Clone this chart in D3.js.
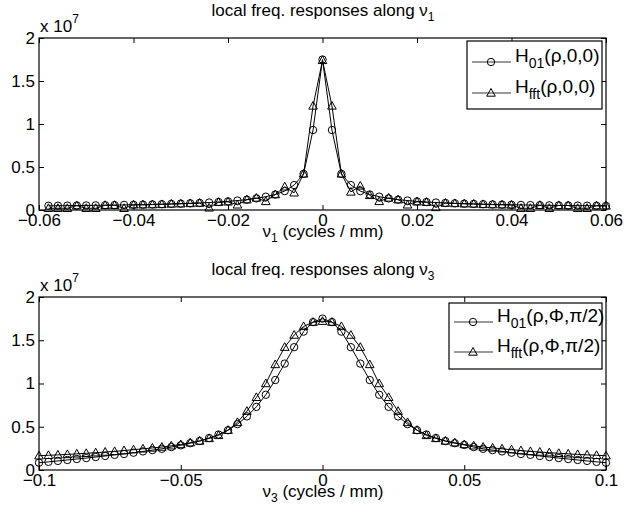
<!DOCTYPE html>
<html>
<head>
<meta charset="utf-8">
<script src="https://cdn.jsdelivr.net/npm/d3@7"></script>
<style>
  body { margin: 0; background: #fff; }
  text { font-family: "Liberation Sans", Arial, sans-serif; fill: #000; }
</style>
</head>
<body>
<script>
// panel 1: along nu1, sampled every 0.002 cycles/mm from -0.058 to 0.06
let topX = d3.range(60).map(i => +(-0.058 + 0.002 * i).toFixed(3));
// values in units of 1e7
let topH01 = [0.049, 0.05, 0.051, 0.052, 0.053, 0.054, 0.056, 0.057, 0.059, 0.061,
    0.063, 0.065, 0.068, 0.071, 0.074, 0.078, 0.082, 0.087, 0.093, 0.10,
    0.11, 0.12, 0.135, 0.155, 0.18, 0.22, 0.29, 0.42, 0.93, 1.75,
    0.93, 0.42, 0.29, 0.22, 0.18, 0.155, 0.135, 0.12, 0.11, 0.10,
    0.093, 0.087, 0.082, 0.078, 0.074, 0.071, 0.068, 0.065, 0.063, 0.061,
    0.059, 0.057, 0.056, 0.054, 0.053, 0.052, 0.051, 0.05, 0.049, 0.048];
let topFft = [0.02, 0.02, 0.02, 0.05, 0.02, 0.02, 0.055, 0.055, 0.02, 0.06,
    0.06, 0.062, 0.065, 0.07, 0.072, 0.076, 0.08, 0.025, 0.09, 0.095,
    0.06, 0.12, 0.14, 0.10, 0.18, 0.27, 0.20, 0.42, 1.21, 1.74,
    1.21, 0.42, 0.21, 0.28, 0.17, 0.10, 0.14, 0.12, 0.06, 0.095,
    0.09, 0.03, 0.08, 0.076, 0.072, 0.07, 0.065, 0.062, 0.06, 0.058,
    0.02, 0.02, 0.055, 0.02, 0.053, 0.052, 0.02, 0.02, 0.05, 0.048];

// panel 2: along nu3, 61 samples from -0.1 to 0.1
let botX = d3.range(61).map(i => -0.1 + i / 300);
let botH01 = [0.084, 0.094, 0.105, 0.116, 0.127, 0.138, 0.15, 0.162, 0.175, 0.185,
    0.20, 0.215, 0.23, 0.245, 0.265, 0.285, 0.31, 0.335, 0.37, 0.41,
    0.46, 0.53, 0.62, 0.73, 0.87, 1.04, 1.23, 1.42, 1.60, 1.71,
    1.75,
    1.71, 1.60, 1.42, 1.23, 1.04, 0.87, 0.73, 0.62, 0.53, 0.46,
    0.41, 0.37, 0.335, 0.31, 0.29, 0.265, 0.245, 0.23, 0.215, 0.20,
    0.185, 0.175, 0.162, 0.15, 0.138, 0.127, 0.116, 0.105, 0.094, 0.084];
let botFft = [0.165, 0.17, 0.175, 0.18, 0.187, 0.193, 0.20, 0.208, 0.215, 0.225,
    0.235, 0.245, 0.255, 0.265, 0.28, 0.295, 0.315, 0.335, 0.365, 0.40,
    0.46, 0.55, 0.68, 0.84, 1.0, 1.22, 1.42, 1.56, 1.66, 1.71,
    1.72,
    1.71, 1.66, 1.56, 1.42, 1.22, 1.0, 0.84, 0.68, 0.55, 0.46,
    0.40, 0.365, 0.335, 0.315, 0.295, 0.28, 0.265, 0.255, 0.245, 0.235,
    0.225, 0.215, 0.208, 0.20, 0.193, 0.187, 0.18, 0.175, 0.17, 0.165];

let yTicks = [0, 0.5, 1, 1.5, 2];
let yTickLabels = ["0", "0.5", "1", "1.5", "2"];
let topXTicks = [-0.06, -0.04, -0.02, 0, 0.02, 0.04, 0.06];
let topXTickLabels = ["\u22120.06", "\u22120.04", "\u22120.02", "0", "0.02", "0.04", "0.06"];
let botXTicks = [-0.1, -0.05, 0, 0.05, 0.1];
let botXTickLabels = ["\u22120.1", "\u22120.05", "0", "0.05", "0.1"];

let width = 624, height = 519;
let svg = d3.select("body").append("svg")
    .attr("width", width)
    .attr("height", height);

let panels = [
    {x: topX, a: topH01, b: topFft, dom: [-0.06, 0.06], ticks: topXTicks, labels: topXTickLabels,
     top: 38, bottom: 210, sub: "1", legA: "(\u03c1,0,0)", legB: "(\u03c1,0,0)",
     leg: {x0: 467, x1: 602, y0: 41, y1: 109, r1: 62, r2: 93}},
    {x: botX, a: botH01, b: botFft, dom: [-0.1, 0.1], ticks: botXTicks, labels: botXTickLabels,
     top: 297, bottom: 470, sub: "3", legA: "(\u03c1,\u03a6,\u03c0/2)", legB: "(\u03c1,\u03a6,\u03c0/2)",
     leg: {x0: 449, x1: 602, y0: 303, y1: 369, r1: 322, r2: 352}}
];

let left = 39, right = 606;

function circle(g, x, y) {
    g.append("circle").attr("cx", x).attr("cy", y).attr("r", 3.7)
        .attr("fill", "none").attr("stroke", "#000").attr("stroke-width", 1);
}
function triangle(g, x, y) {
    g.append("path")
        .attr("d", `M${x},${y - 4.5} L${x + 4.3},${y + 3.2} L${x - 4.3},${y + 3.2} Z`)
        .attr("fill", "none").attr("stroke", "#000").attr("stroke-width", 1);
}

panels.forEach(p => {
    let xScale = d3.scaleLinear(p.dom, [left, right]);
    let yScale = d3.scaleLinear([0, 2], [p.bottom, p.top]);
    let g = svg.append("g");

    // axes (ticks point inward, mirrored on top and right)
    g.append("g")
        .attr("transform", `translate(0,${p.bottom})`)
        .call(d3.axisBottom(xScale).tickValues(p.ticks)
            .tickFormat((d, i) => p.labels[i]).tickSize(-5).tickPadding(4))
        .call(a => a.selectAll("text").attr("font-size", 17));
    g.append("g")
        .attr("transform", `translate(0,${p.top})`)
        .call(d3.axisTop(xScale).tickValues(p.ticks).tickFormat("").tickSize(-5));
    g.append("g")
        .attr("transform", `translate(${left},0)`)
        .call(d3.axisLeft(yScale).tickValues(yTicks)
            .tickFormat((d, i) => yTickLabels[i]).tickSize(-5).tickPadding(4))
        .call(a => a.selectAll("text").attr("font-size", 17));
    g.append("g")
        .attr("transform", `translate(${right},0)`)
        .call(d3.axisRight(yScale).tickValues(yTicks).tickFormat("").tickSize(-5));
    g.selectAll(".domain").remove();
    g.selectAll(".tick line").attr("stroke", "#000").attr("stroke-width", 1);
    g.selectAll(".tick text").attr("font-family", "Liberation Sans, Arial, sans-serif");
    g.append("rect")
        .attr("x", left).attr("y", p.top)
        .attr("width", right - left).attr("height", p.bottom - p.top)
        .attr("fill", "none").attr("stroke", "#000").attr("stroke-width", 1.2);

    // exponent label
    let ex = g.append("text").attr("x", left + 1).attr("y", p.top - 6).attr("font-size", 17);
    ex.append("tspan").text("x 10");
    ex.append("tspan").attr("dy", -9).attr("font-size", 12).text("7");

    // title
    let t = g.append("text").attr("x", 323).attr("y", p.top - 22)
        .attr("text-anchor", "middle").attr("font-size", 17);
    t.append("tspan").text("local freq. responses along \u03bd");
    t.append("tspan").attr("dy", 5).attr("font-size", 12).text(p.sub);

    // x label
    let xl = g.append("text").attr("x", 323).attr("y", p.bottom + 27)
        .attr("text-anchor", "middle").attr("font-size", 17);
    xl.append("tspan").text("\u03bd");
    xl.append("tspan").attr("dy", 5).attr("font-size", 12).text(p.sub);
    xl.append("tspan").attr("dy", -5).text(" (cycles / mm)");

    // series
    let line = d3.line().x((d, i) => xScale(p.x[i])).y(d => yScale(d));
    [p.a, p.b].forEach((s, k) => {
        g.append("path").datum(s).attr("d", line)
            .attr("fill", "none").attr("stroke", "#000").attr("stroke-width", 1);
        s.forEach((v, i) => (k === 0 ? circle : triangle)(g, xScale(p.x[i]), yScale(v)));
    });

    // legend
    let L = p.leg;
    g.append("rect").attr("x", L.x0).attr("y", L.y0)
        .attr("width", L.x1 - L.x0).attr("height", L.y1 - L.y0)
        .attr("fill", "#fff").attr("stroke", "#000").attr("stroke-width", 1.2);
    [[L.r1, "01", p.legA, circle], [L.r2, "fft", p.legB, triangle]].forEach(r => {
        g.append("line").attr("x1", L.x0 + 5).attr("x2", L.x0 + 44)
            .attr("y1", r[0]).attr("y2", r[0])
            .attr("stroke", "#000").attr("stroke-width", 0.8);
        r[3](g, L.x0 + 24, r[0]);
        let lt = g.append("text").attr("x", L.x0 + 48).attr("y", r[0]).attr("font-size", 19);
        lt.append("tspan").text("H");
        lt.append("tspan").attr("dy", 6).attr("font-size", 14).text(r[1]);
        lt.append("tspan").attr("dy", -6).text(r[2]);
    });
});
</script>
</body>
</html>
